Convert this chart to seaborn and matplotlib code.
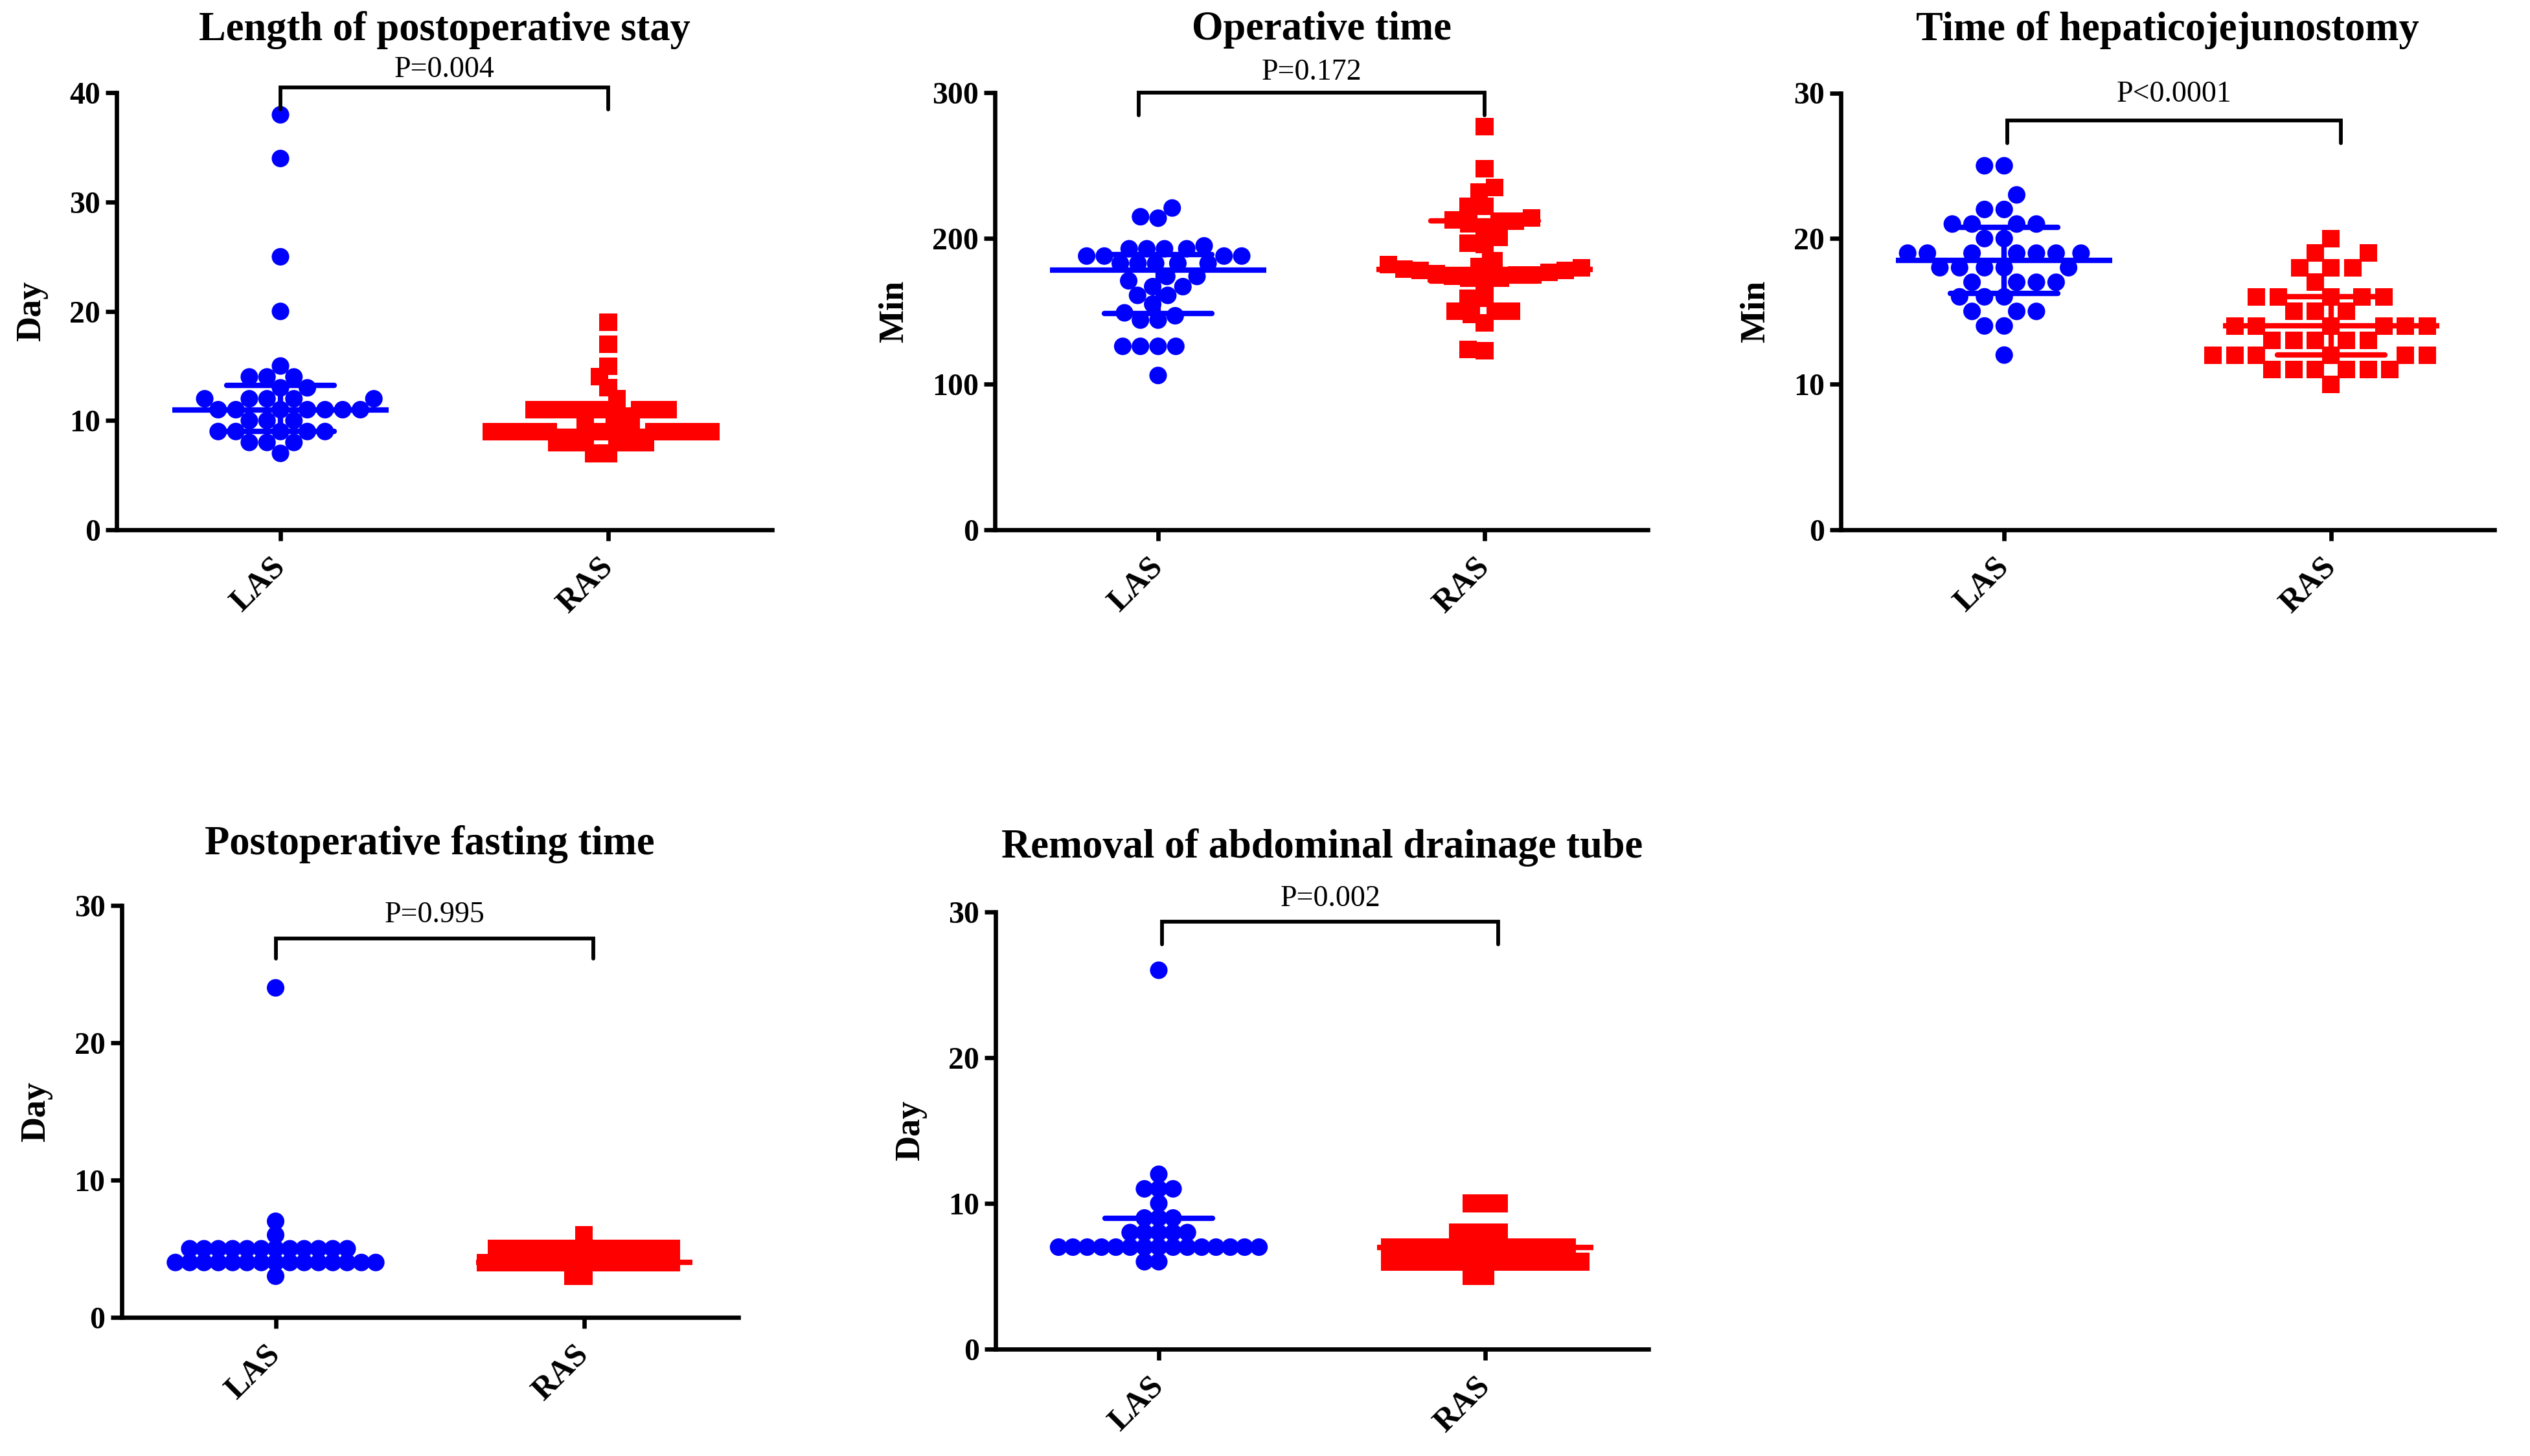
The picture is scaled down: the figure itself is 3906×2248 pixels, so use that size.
import numpy as np
import pandas as pd
import matplotlib
matplotlib.use("Agg")
import matplotlib.pyplot as plt
import seaborn as sns

# ---------------- data ----------------
groups = ["LAS", "RAS"]
titles = ["Length of postoperative stay", "Operative time", "Time of hepaticojejunostomy",
          "Postoperative fasting time", "Removal of abdominal drainage tube"]
ylabels = ["Day", "Min", "Min", "Day", "Day"]
p_labels = ["P=0.004", "P=0.172", "P<0.0001", "P=0.995", "P=0.002"]
y_max = [40, 300, 30, 30, 30]
y_ticks = [[0, 10, 20, 30, 40], [0, 100, 200, 300], [0, 10, 20, 30], [0, 10, 20, 30], [0, 10, 20, 30]]

stay_las = [38, 34, 25, 20, 15, 14, 14, 14, 13, 13, 12, 12, 12, 12, 12,
            11, 11, 11, 11, 11, 11, 11, 10, 10, 10, 9, 9, 9, 9, 9, 8, 8, 8, 7]
stay_ras = [19, 17, 15, 14, 13, 12, 11, 11, 11, 11, 11, 11, 11, 11, 11,
            10, 10, 10, 9, 9, 9, 9, 9, 9, 9, 9, 9, 9, 9, 9, 8, 8, 8, 8, 8, 8, 7, 7]

optime_las = [221, 215, 214, 195, 193, 193, 193, 193, 188, 188, 188, 188, 183, 183, 183, 183, 183,
              174, 174, 171, 167, 167, 161, 161, 155, 149, 147, 144, 144, 126, 126, 126, 126, 106]
optime_ras = [277, 248, 235, 232, 222, 222, 214, 213, 212, 212, 210, 207, 201, 197, 196, 185,
              182, 181, 180, 179, 178, 178, 177, 176, 175, 175, 174, 173, 173, 171,
              159, 159, 150, 150, 150, 148, 142, 124, 123]

hj_las = [25, 25, 23, 22, 22, 21, 21, 21, 21, 20, 20, 19, 19, 19, 19, 19, 19, 19,
          18, 18, 18, 18, 18, 17, 17, 17, 17, 16, 16, 16, 15, 15, 15, 14, 14, 12]
hj_ras = [20, 19, 19, 18, 18, 18, 17, 16, 16, 16, 16, 16, 15, 15, 15, 14, 14, 14, 14, 14, 14,
          13, 13, 13, 13, 13, 12, 12, 12, 12, 12, 12, 11, 11, 11, 11, 11, 11, 10]

fast_las = [24, 7, 6, 5, 5, 5, 5, 5, 5, 5, 5, 5, 5, 5, 5,
            4, 4, 4, 4, 4, 4, 4, 4, 4, 4, 4, 4, 4, 4, 4, 3]
fast_ras = [6, 5, 5, 5, 5, 5, 5, 5, 5, 5, 5, 5, 5, 5, 5, 5, 5, 5,
            4, 4, 4, 4, 4, 4, 4, 4, 4, 4, 4, 4, 4, 4, 4, 4, 4, 4, 3, 3]

drain_las = [26, 12, 11, 11, 11, 10, 9, 9, 9, 8, 8, 8, 8, 8,
             7, 7, 7, 7, 7, 7, 7, 7, 7, 7, 7, 7, 7, 7, 7, 6, 6]
drain_ras = [10, 10, 10, 8, 8, 8, 8, 7, 7, 7, 7, 7, 7, 7, 7, 7, 7, 7, 7, 7, 7,
             6, 6, 6, 6, 6, 6, 6, 6, 6, 6, 6, 6, 6, 6, 6, 5, 5]

panel_data = [(stay_las, stay_ras), (optime_las, optime_ras), (hj_las, hj_ras),
              (fast_las, fast_ras), (drain_las, drain_ras)]

# ---------------- layout / style ----------------
W, H = 3906, 2248
DPI = 300
# axes rectangles in pixels: left, top, width, height
ax_px = [(180, 143.5, 1012, 674.5), (1536, 143.5, 1008, 674.5), (2842, 143.5, 1009, 674.5),
         (187.5, 1398, 952, 636), (1537, 1408, 1008, 675)]
# bracket: x0, x1, y of bar, y of leg ends, y of text
brackets = [(0.0, 1.0, 40.5, 38.5, 42.1), (-0.06, 1.0, 300, 284.6, 314),
            (0.01, 1.03, 28.1, 26.55, 29.9), (0.0, 1.03, 27.6, 26.15, 29.3),
            (0.01, 1.04, 29.35, 27.8, 30.9)]
title_off = [23.4, 23.4, 23.4, 22.6, 24.0]
# swarm spacing tweak (extra "edge" in points) per panel for LAS / RAS
spacing = [(-0.26, -1.46), (-0.26, -0.74), (0.46, 1.18), (-1.45, -2.65), (-1.45, -1.7)]

colors = {"LAS": "#0000FF", "RAS": "#FF0000"}
markers = {"LAS": "o", "RAS": "s"}
MSIZE = 6.5

sns.set_theme(style="ticks")
plt.rcParams["font.family"] = ["Liberation Serif", "DejaVu Serif"]
plt.rcParams.update({
    "text.color": "black", "axes.labelcolor": "black",
    "xtick.color": "black", "ytick.color": "black",
    "axes.edgecolor": "black", "axes.linewidth": 1.6,
})


def iqr(v):
    return (np.percentile(v, 25, method="weibull"), np.percentile(v, 75, method="weibull"))


fig = plt.figure(figsize=(W / DPI, H / DPI), dpi=DPI)

for i in range(5):
    l, t, w, h = ax_px[i]
    ax = fig.add_axes([l / W, 1 - (t + h) / H, w / W, h / H])
    for gi, g in enumerate(groups):
        vals = panel_data[i][gi]
        df = pd.DataFrame({"group": [g] * len(vals), "value": vals})
        sns.swarmplot(data=df, x="group", y="value", order=groups, color=colors[g],
                      marker=markers[g], size=MSIZE, edgecolor="none",
                      linewidth=spacing[i][gi], warn_thresh=1.0, ax=ax, zorder=1)
    for gi, g in enumerate(groups):
        vals = panel_data[i][gi]
        df = pd.DataFrame({"group": [g] * len(vals), "value": vals})
        sns.pointplot(data=df, x="group", y="value", order=groups, estimator="median",
                      errorbar=iqr, color=colors[g], marker="_", markersize=80,
                      markeredgewidth=2.0, linewidth=2.0, linestyle="none", capsize=0.33,
                      err_kws={"linewidth": 2.0, "zorder": 3}, zorder=3, ax=ax)

    ax.set_xlim(-0.5, 1.5)
    ax.set_ylim(0, y_max[i])
    ax.set_yticks(y_ticks[i])
    ax.set_xlabel("")
    ax.set_ylabel(ylabels[i], fontsize=13, fontweight="bold", labelpad=8)
    sns.despine(ax=ax)
    for s in ("left", "bottom"):
        ax.spines[s].set_linewidth(1.6)
        ax.spines[s].set_color("black")
    ax.tick_params(axis="both", length=4, width=1.6, labelsize=11.5, colors="black")
    ax.tick_params(axis="x", pad=8)
    ax.tick_params(axis="y", pad=2)
    for lbl in ax.get_yticklabels():
        lbl.set_fontweight("bold")
    plt.setp(ax.get_xticklabels(), rotation=45, ha="right", va="center",
             rotation_mode="anchor", fontweight="bold", fontsize=12)

    x0, x1, yb, yl, yt = brackets[i]
    ax.plot([x0, x0, x1, x1], [yl, yb, yb, yl], color="black", lw=1.4, clip_on=False,
            solid_joinstyle="miter", zorder=4)
    ax.text((x0 + x1) / 2, yt, p_labels[i], ha="center", va="center", fontsize=11,
            clip_on=False)
    ax.annotate(titles[i], xy=(0.5, 1), xycoords="axes fraction", xytext=(0, title_off[i]),
                textcoords="offset points", ha="center", va="center", fontsize=15,
                fontweight="bold", annotation_clip=False)

fig.savefig("out.png", dpi=DPI, facecolor="white")
